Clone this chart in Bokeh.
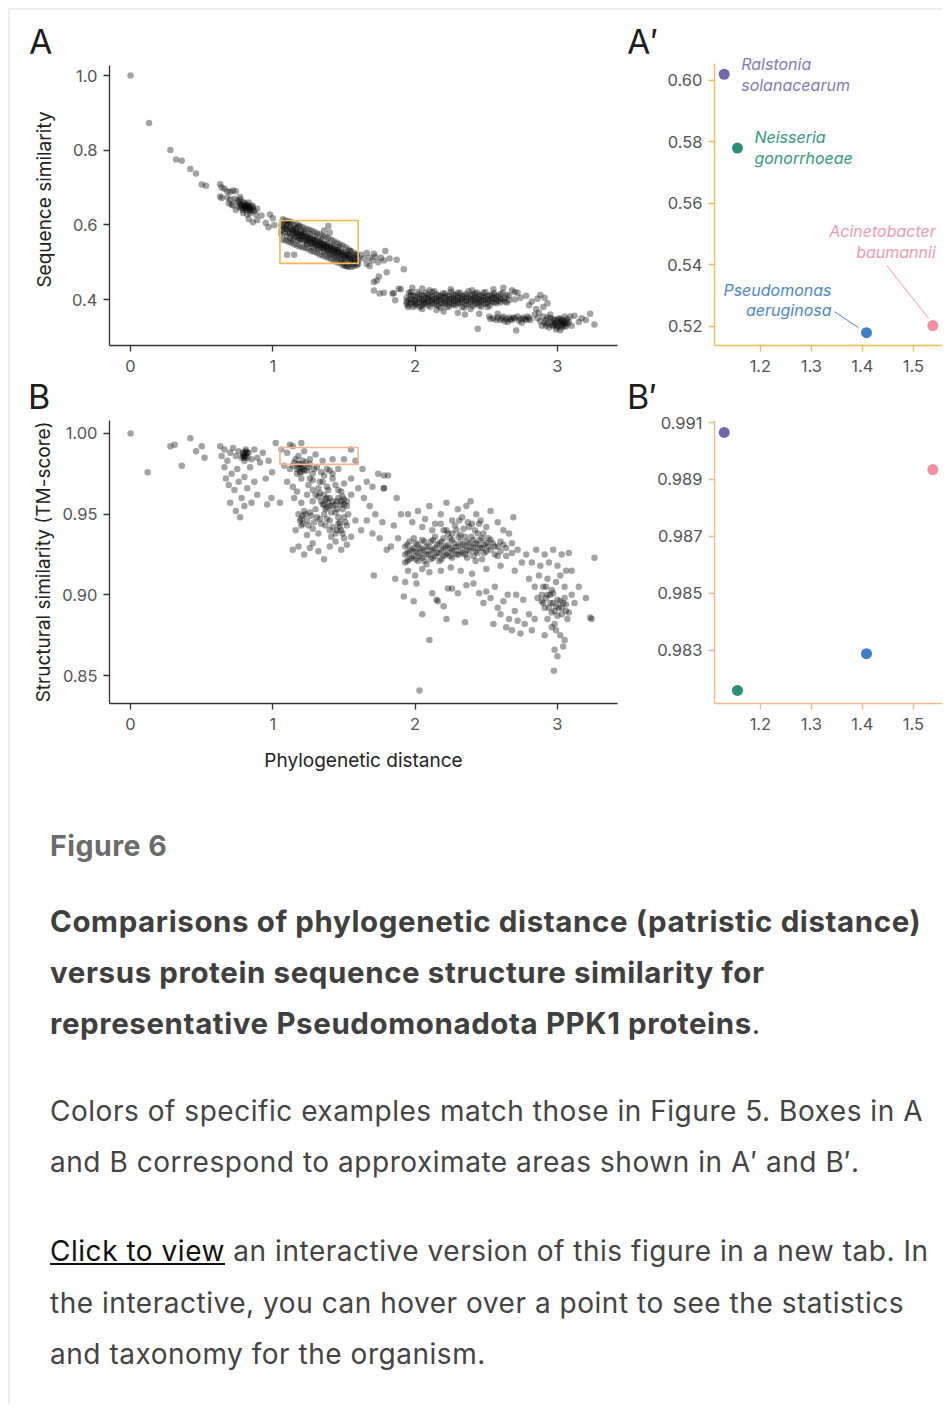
from bokeh.plotting import figure
from bokeh.layouts import column, row
from bokeh.models import Div, PrintfTickFormatter, FixedTicker, BoxAnnotation, Range1d, ColumnDataSource, Label
from bokeh.embed import file_html
from bokeh.resources import INLINE

FONT = "Inter"

# ---------------- data ----------------
panel_letters_top = ["A", "A\u2032"]
panel_letters_bottom = ["B", "B\u2032"]

main_x_ticks = [0, 1, 2, 3]
seq_ticks = [0.4, 0.6, 0.8, 1.0]
tm_ticks = [0.85, 0.90, 0.95, 1.00]
zoom_x_ticks = [1.2, 1.3, 1.4, 1.5]
zoom_seq_ticks = [0.52, 0.54, 0.56, 0.58, 0.60]
zoom_tm_ticks = [0.983, 0.985, 0.987, 0.989, 0.991]

box_dist = [1.05, 1.60]
box_seq = [0.497, 0.612]
box_tm = [0.9808, 0.9913]

species_line1 = ["Ralstonia", "Neisseria", "Pseudomonas", "Acinetobacter"]
species_line2 = ["solanacearum", "gonorrhoeae", "aeruginosa", "baumannii"]
species_dist = [1.129, 1.155, 1.408, 1.538]
species_seq = [0.602, 0.578, 0.518, 0.5203]
species_tm = [0.99065, 0.98160, 0.98289, 0.98935]
species_color = ["#7167ac", "#2b8f77", "#3f7dc6", "#f38ea2"]
species_label_color = ["#8279bd", "#33987f", "#4b87d0", "#f39aac"]

# Panel A: (phylogenetic distance, sequence similarity)
a_sparse = [(0.00, 1.000), (0.13, 0.873), (0.28, 0.801), (0.32, 0.775), (0.36, 0.772), (0.42, 0.750),
            (0.46, 0.738), (0.50, 0.708), (0.53, 0.705)]
a_cluster1 = [(0.63, 0.709), (0.64, 0.700), (0.66, 0.697), (0.63, 0.676), (0.64, 0.672), (0.68, 0.690),
              (0.70, 0.688), (0.72, 0.692), (0.74, 0.690), (0.68, 0.674), (0.70, 0.668), (0.73, 0.670),
              (0.75, 0.665), (0.76, 0.660), (0.77, 0.668), (0.78, 0.655), (0.79, 0.662), (0.80, 0.650),
              (0.80, 0.658), (0.81, 0.645), (0.82, 0.655), (0.83, 0.648), (0.84, 0.640), (0.85, 0.652),
              (0.86, 0.644), (0.87, 0.637), (0.78, 0.645), (0.76, 0.648), (0.74, 0.640), (0.71, 0.655),
              (0.79, 0.632), (0.82, 0.628), (0.84, 0.632), (0.88, 0.628), (0.89, 0.643), (0.92, 0.625),
              (0.86, 0.607), (0.89, 0.613), (0.83, 0.616), (0.81, 0.640), (0.83, 0.660), (0.77, 0.675),
              (0.72, 0.652), (0.69, 0.658), (0.98, 0.628), (1.00, 0.618), (0.97, 0.594), (1.01, 0.600),
              (0.95, 0.605), (0.78, 0.650), (0.80, 0.645), (0.82, 0.650), (0.84, 0.646), (0.81, 0.652),
              (0.83, 0.642), (0.79, 0.640), (0.85, 0.638), (0.77, 0.655), (0.86, 0.650)]
a_box_rows = {
    1.06: [0.600, 0.585, 0.575], 1.08: [0.607, 0.592, 0.580], 1.10: [0.598, 0.588, 0.570, 0.603],
    1.12: [0.593, 0.578, 0.565, 0.605], 1.14: [0.590, 0.575, 0.583, 0.560], 1.16: [0.585, 0.570, 0.592, 0.578],
    1.18: [0.580, 0.565, 0.573, 0.558, 0.595], 1.20: [0.577, 0.562, 0.570, 0.585],
    1.22: [0.575, 0.556, 0.566, 0.580], 1.24: [0.570, 0.553, 0.563, 0.548], 1.26: [0.567, 0.552, 0.560, 0.575],
    1.28: [0.562, 0.548, 0.556, 0.540], 1.30: [0.560, 0.545, 0.553, 0.568], 1.32: [0.556, 0.540, 0.549, 0.535],
    1.34: [0.552, 0.538, 0.546, 0.560], 1.36: [0.548, 0.535, 0.543, 0.528], 1.38: [0.545, 0.530, 0.539, 0.552],
    1.40: [0.542, 0.525, 0.536, 0.520], 1.42: [0.538, 0.522, 0.532, 0.545], 1.44: [0.535, 0.518, 0.529, 0.512],
    1.46: [0.532, 0.515, 0.526, 0.540], 1.48: [0.528, 0.510, 0.522, 0.505], 1.50: [0.525, 0.508, 0.519, 0.495],
    1.52: [0.522, 0.505, 0.516, 0.490], 1.54: [0.518, 0.500, 0.512, 0.530], 1.56: [0.515, 0.495, 0.509],
    1.58: [0.510, 0.498, 0.520], 1.60: [0.505, 0.495, 0.512],
    1.07: [0.615, 0.560, 0.596], 1.09: [0.612, 0.558, 0.590], 1.11: [0.610, 0.555, 0.580],
    1.13: [0.608, 0.552, 0.588], 1.15: [0.600, 0.548, 0.566], 1.17: [0.602, 0.545, 0.580],
    1.19: [0.598, 0.542, 0.560], 1.21: [0.594, 0.540, 0.572], 1.23: [0.590, 0.538, 0.558],
    1.25: [0.588, 0.535, 0.566], 1.27: [0.585, 0.530, 0.550], 1.29: [0.582, 0.528, 0.560],
    1.31: [0.578, 0.525, 0.545], 1.33: [0.575, 0.520, 0.555], 1.35: [0.570, 0.518, 0.540],
    1.37: [0.568, 0.515, 0.548], 1.39: [0.565, 0.512, 0.532], 1.41: [0.560, 0.508, 0.540],
    1.43: [0.556, 0.505, 0.525], 1.45: [0.552, 0.500, 0.533], 1.47: [0.548, 0.498, 0.518],
    1.49: [0.545, 0.492, 0.527], 1.51: [0.540, 0.490, 0.512], 1.53: [0.535, 0.488, 0.520],
    1.55: [0.530, 0.487, 0.505], 1.57: [0.525, 0.490, 0.502], 1.59: [0.520, 0.492],
}
a_box_extra = [(1.10, 0.520), (1.15, 0.520), (1.39, 0.597), (1.40, 0.580), (1.36, 0.585)]
a_tail = [(1.62, 0.520), (1.64, 0.510), (1.66, 0.496), (1.66, 0.525), (1.68, 0.512), (1.70, 0.505), (1.71, 0.523),
          (1.72, 0.515), (1.74, 0.500), (1.76, 0.512), (1.79, 0.530), (1.78, 0.505), (1.80, 0.473), (1.82, 0.510),
          (1.87, 0.507), (1.92, 0.481), (1.745, 0.462), (1.73, 0.451), (1.71, 0.424), (1.75, 0.416), (1.71, 0.447),
          (1.78, 0.418), (1.84, 0.416), (1.85, 0.417), (1.885, 0.429), (1.86, 0.398), (1.90, 0.428), (1.68, 0.490)]
a_band_rows = {
    1.94: [0.405, 0.395, 0.388], 1.97: [0.412, 0.400, 0.392, 0.420], 2.00: [0.408, 0.398, 0.390, 0.385],
    2.03: [0.415, 0.402, 0.394, 0.380], 2.06: [0.410, 0.400, 0.392, 0.388], 2.09: [0.412, 0.403, 0.395, 0.385],
    2.12: [0.408, 0.398, 0.390, 0.420], 2.15: [0.414, 0.404, 0.396, 0.386], 2.18: [0.410, 0.400, 0.392, 0.378],
    2.21: [0.416, 0.405, 0.395, 0.388], 2.24: [0.410, 0.401, 0.393, 0.382], 2.27: [0.413, 0.404, 0.396, 0.387],
    2.30: [0.418, 0.406, 0.398, 0.390], 2.33: [0.411, 0.402, 0.394, 0.380], 2.36: [0.415, 0.405, 0.397, 0.386],
    2.39: [0.410, 0.401, 0.393, 0.375], 2.42: [0.416, 0.406, 0.398, 0.388], 2.45: [0.412, 0.402, 0.394, 0.384],
    2.48: [0.418, 0.407, 0.399, 0.390], 2.51: [0.410, 0.400, 0.392, 0.380], 2.54: [0.413, 0.403, 0.395],
    2.57: [0.410, 0.400, 0.390], 2.60: [0.415, 0.402, 0.392], 2.63: [0.405, 0.395], 2.66: [0.410, 0.398],
    2.70: [0.420, 0.400],
    1.955: [0.418, 0.400, 0.385], 1.985: [0.410, 0.395, 0.380], 2.015: [0.420, 0.405, 0.388],
    2.045: [0.412, 0.398, 0.383], 2.075: [0.418, 0.404, 0.390], 2.105: [0.409, 0.396, 0.381],
    2.135: [0.422, 0.402, 0.389], 2.165: [0.411, 0.399, 0.383], 2.195: [0.417, 0.406, 0.390],
    2.225: [0.410, 0.397, 0.380], 2.255: [0.421, 0.403, 0.388], 2.285: [0.412, 0.398, 0.384],
    2.315: [0.418, 0.404, 0.391], 2.345: [0.410, 0.396, 0.379], 2.375: [0.422, 0.405, 0.388],
    2.405: [0.413, 0.399, 0.383], 2.435: [0.419, 0.403, 0.390], 2.465: [0.410, 0.396, 0.381],
    2.495: [0.420, 0.404, 0.389], 2.525: [0.411, 0.398, 0.384], 2.555: [0.417, 0.405, 0.392],
    2.585: [0.409, 0.396], 2.615: [0.418, 0.400], 2.645: [0.412, 0.392],
}
a_band_extra = [(1.98, 0.432), (2.05, 0.430), (2.10, 0.425), (2.25, 0.428), (2.40, 0.425), (2.55, 0.428),
                (2.62, 0.432), (2.68, 0.425), (2.72, 0.418), (2.20, 0.368), (2.30, 0.365), (2.35, 0.360),
                (2.45, 0.362), (2.44, 0.322), (2.15, 0.372), (2.05, 0.375), (1.95, 0.380)]
a_low = [(2.52, 0.355), (2.55, 0.350), (2.58, 0.352), (2.60, 0.345), (2.62, 0.355), (2.64, 0.348), (2.66, 0.352),
         (2.68, 0.345), (2.70, 0.350), (2.72, 0.355), (2.74, 0.348), (2.76, 0.352), (2.78, 0.345), (2.80, 0.350),
         (2.65, 0.340), (2.71, 0.317), (2.58, 0.362), (2.75, 0.338), (2.53, 0.348), (2.57, 0.345), (2.61, 0.350),
         (2.63, 0.342), (2.67, 0.347), (2.69, 0.352), (2.73, 0.343), (2.77, 0.348), (2.79, 0.355), (2.81, 0.345)]
a_upper_right = [(2.74, 0.405), (2.78, 0.410), (2.82, 0.395), (2.86, 0.402), (2.88, 0.412), (2.91, 0.405),
                 (2.93, 0.390), (2.80, 0.385), (2.85, 0.375), (2.90, 0.380)]
a_right = [(2.84, 0.360), (2.86, 0.350), (2.88, 0.342), (2.90, 0.355), (2.92, 0.345), (2.93, 0.335), (2.95, 0.350),
           (2.96, 0.340), (2.97, 0.330), (2.98, 0.345), (3.00, 0.338), (3.00, 0.325), (3.01, 0.350), (3.02, 0.340),
           (3.03, 0.332), (3.04, 0.345), (3.05, 0.338), (3.06, 0.328), (3.07, 0.348), (3.08, 0.340), (2.94, 0.325),
           (2.99, 0.320), (3.02, 0.318), (2.89, 0.330), (2.87, 0.365), (3.09, 0.355), (3.10, 0.330), (2.95, 0.360),
           (3.05, 0.355), (3.03, 0.325), (3.12, 0.357), (3.17, 0.350), (3.23, 0.362), (3.26, 0.333), (3.15, 0.340),
           (3.20, 0.345), (2.91, 0.338), (2.93, 0.352), (2.96, 0.332), (2.98, 0.336), (3.00, 0.345), (3.01, 0.330),
           (3.02, 0.348), (3.04, 0.336), (3.06, 0.342), (2.97, 0.348), (3.03, 0.342), (2.99, 0.332), (2.92, 0.330),
           (3.05, 0.330), (3.07, 0.335)]

# Panel B: (phylogenetic distance, TM-score)
b_sparse = [(0.00, 1.000), (0.12, 0.976), (0.28, 0.992), (0.31, 0.993), (0.36, 0.980), (0.42, 0.997),
            (0.46, 0.989), (0.50, 0.992), (0.52, 0.985)]
b_cluster0 = [(0.63, 0.992), (0.64, 0.986), (0.66, 0.990), (0.68, 0.983), (0.70, 0.988), (0.72, 0.991),
              (0.74, 0.986), (0.76, 0.989), (0.78, 0.985), (0.79, 0.988), (0.80, 0.986), (0.81, 0.989),
              (0.82, 0.985), (0.80, 0.983), (0.83, 0.988), (0.85, 0.984), (0.87, 0.990), (0.89, 0.985),
              (0.91, 0.982), (0.93, 0.988), (0.66, 0.979), (0.67, 0.972), (0.69, 0.968), (0.71, 0.975),
              (0.73, 0.965), (0.75, 0.978), (0.76, 0.970), (0.78, 0.960), (0.80, 0.973), (0.82, 0.966),
              (0.84, 0.979), (0.85, 0.957), (0.87, 0.970), (0.89, 0.962), (0.70, 0.957), (0.74, 0.952),
              (0.77, 0.948), (0.80, 0.955), (0.96, 0.956), (0.99, 0.960), (1.05, 0.957), (0.995, 0.976),
              (1.02, 0.994), (0.97, 0.983), (0.95, 0.972), (0.80, 0.988), (0.81, 0.986), (0.82, 0.988),
              (0.80, 0.985), (0.81, 0.990), (0.79, 0.986)]
b_cluster1 = [(1.06, 0.990), (1.10, 0.988), (1.14, 0.992), (1.18, 0.986), (1.22, 0.989), (1.26, 0.984),
              (1.30, 0.987), (1.35, 0.983), (1.42, 0.984), (1.50, 0.984), (1.55, 0.990), (1.58, 0.983),
              (1.12, 0.993), (1.20, 0.994),
              (1.08, 0.980), (1.12, 0.978), (1.15, 0.982), (1.18, 0.979), (1.20, 0.976), (1.22, 0.980),
              (1.24, 0.977), (1.26, 0.981), (1.28, 0.975), (1.31, 0.979), (1.34, 0.976), (1.38, 0.978),
              (1.42, 0.975), (1.46, 0.978), (1.19, 0.981), (1.21, 0.978), (1.17, 0.975),
              (1.10, 0.970), (1.14, 0.967), (1.20, 0.972), (1.25, 0.968), (1.28, 0.971), (1.32, 0.966),
              (1.35, 0.970), (1.38, 0.967), (1.42, 0.972), (1.46, 0.965), (1.50, 0.969), (1.55, 0.972),
              (1.60, 0.966), (1.17, 0.964),
              (1.15, 0.960), (1.20, 0.957), (1.24, 0.962), (1.28, 0.958), (1.32, 0.961), (1.35, 0.956),
              (1.37, 0.959), (1.39, 0.957), (1.40, 0.960), (1.42, 0.955), (1.45, 0.958), (1.48, 0.956),
              (1.50, 0.959), (1.52, 0.955), (1.55, 0.962), (1.36, 0.962), (1.38, 0.954), (1.49, 0.953),
              (1.18, 0.950), (1.20, 0.947), (1.22, 0.952), (1.24, 0.946), (1.27, 0.949), (1.30, 0.953),
              (1.33, 0.947), (1.36, 0.950), (1.40, 0.946), (1.44, 0.951), (1.47, 0.945), (1.50, 0.948),
              (1.53, 0.950), (1.58, 0.946), (1.21, 0.949),
              (1.16, 0.940), (1.20, 0.943), (1.24, 0.937), (1.28, 0.941), (1.32, 0.938), (1.37, 0.943),
              (1.41, 0.936), (1.45, 0.940), (1.47, 0.942), (1.49, 0.938), (1.52, 0.943), (1.55, 0.936),
              (1.46, 0.944), (1.50, 0.935),
              (1.14, 0.928), (1.18, 0.930), (1.22, 0.925), (1.28, 0.932), (1.32, 0.927), (1.36, 0.922),
              (1.40, 0.930), (1.44, 0.933), (1.48, 0.928), (1.52, 0.931), (1.26, 0.929),
              (1.18, 0.981), (1.20, 0.979), (1.22, 0.977), (1.19, 0.976), (1.23, 0.982), (1.17, 0.978),
              (1.25, 0.979), (1.21, 0.983), (1.16, 0.984), (1.14, 0.980),
              (1.34, 0.958), (1.36, 0.956), (1.38, 0.960), (1.40, 0.955), (1.42, 0.958), (1.44, 0.956),
              (1.46, 0.960), (1.48, 0.958), (1.50, 0.956), (1.52, 0.958), (1.37, 0.953), (1.41, 0.951),
              (1.45, 0.953), (1.49, 0.961), (1.33, 0.963),
              (1.19, 0.946), (1.21, 0.944), (1.23, 0.950), (1.25, 0.943), (1.26, 0.951), (1.29, 0.945),
              (1.31, 0.948), (1.34, 0.944), (1.38, 0.947), (1.42, 0.942), (1.46, 0.948), (1.48, 0.940),
              (1.51, 0.945), (1.44, 0.938), (1.40, 0.940),
              (1.28, 0.965), (1.30, 0.962), (1.26, 0.972), (1.33, 0.970), (1.39, 0.965), (1.44, 0.968),
              (1.48, 0.964), (1.29, 0.978), (1.36, 0.974), (1.40, 0.977)]
b_right1 = [(1.63, 0.978), (1.66, 0.970), (1.70, 0.967), (1.74, 0.975), (1.78, 0.974), (1.81, 0.974),
            (1.64, 0.960), (1.68, 0.955), (1.72, 0.950), (1.77, 0.945), (1.66, 0.946), (1.70, 0.938),
            (1.75, 0.935), (1.62, 0.940), (1.83, 0.930), (1.87, 0.960), (1.90, 0.950), (1.71, 0.912),
            (1.78, 0.966), (1.80, 0.928), (1.88, 0.935), (1.85, 0.943)]
b_band_rows = {
    1.93: [0.930, 0.925, 0.920], 1.96: [0.933, 0.927, 0.922], 1.99: [0.929, 0.924, 0.935],
    2.02: [0.931, 0.926, 0.921], 2.05: [0.934, 0.928, 0.923], 2.08: [0.930, 0.925, 0.919],
    2.11: [0.933, 0.927, 0.922], 2.14: [0.929, 0.924, 0.936], 2.17: [0.932, 0.926, 0.921],
    2.20: [0.935, 0.929, 0.924], 2.23: [0.931, 0.926, 0.938], 2.26: [0.934, 0.928, 0.923],
    2.29: [0.930, 0.925, 0.940], 2.32: [0.933, 0.927, 0.937], 2.35: [0.936, 0.930, 0.925],
    2.38: [0.932, 0.927, 0.942], 2.41: [0.934, 0.929, 0.924], 2.44: [0.931, 0.926, 0.938],
    2.47: [0.935, 0.929, 0.922], 2.50: [0.932, 0.927], 2.53: [0.934, 0.928], 2.56: [0.930, 0.925],
    2.60: [0.933, 0.927], 2.64: [0.929, 0.924], 2.68: [0.932, 0.926], 2.72: [0.928],
    1.945: [0.931, 0.926, 0.921], 1.975: [0.928, 0.923], 2.005: [0.932, 0.927, 0.922], 2.035: [0.929, 0.924],
    2.065: [0.933, 0.927, 0.921], 2.095: [0.930, 0.925], 2.125: [0.934, 0.928, 0.923], 2.155: [0.931, 0.926],
    2.185: [0.933, 0.928, 0.922], 2.215: [0.930, 0.925], 2.245: [0.935, 0.929, 0.924], 2.275: [0.932, 0.927],
    2.305: [0.936, 0.930, 0.925], 2.335: [0.931, 0.926], 2.365: [0.933, 0.928, 0.923], 2.395: [0.936, 0.930],
    2.425: [0.932, 0.927, 0.921], 2.455: [0.934, 0.929], 2.485: [0.931, 0.926], 2.515: [0.935, 0.930],
    2.545: [0.932], 2.58: [0.930, 0.924], 2.62: [0.931],
}
b_band_extra = [(1.95, 0.950), (1.98, 0.945), (2.02, 0.952), (2.07, 0.947), (2.10, 0.955), (2.14, 0.944),
                (2.18, 0.950), (2.22, 0.957), (2.26, 0.946), (2.30, 0.953), (2.33, 0.948), (2.36, 0.955),
                (2.40, 0.944), (2.43, 0.950), (2.46, 0.946), (2.50, 0.942), (2.53, 0.952), (2.58, 0.945),
                (2.62, 0.940), (2.66, 0.938), (2.69, 0.948), (2.39, 0.958), (2.20, 0.940), (2.12, 0.940),
                (2.05, 0.942), (1.95, 0.915), (2.00, 0.912), (2.05, 0.916), (2.10, 0.914), (2.18, 0.915),
                (2.25, 0.917), (2.32, 0.915), (2.40, 0.913), (2.50, 0.916), (2.60, 0.918), (2.70, 0.915),
                (2.75, 0.920), (1.78, 0.966), (2.22, 0.940), (2.28, 0.943), (2.34, 0.941), (2.37, 0.945),
                (2.42, 0.940), (2.45, 0.944), (2.48, 0.938), (2.31, 0.946), (2.26, 0.938), (2.18, 0.944)]
b_lower_left = [(1.86, 0.910), (1.93, 0.908), (2.01, 0.907), (1.92, 0.899), (2.05, 0.888), (2.10, 0.872),
                (2.12, 0.901), (2.15, 0.897), (2.16, 0.896), (2.23, 0.904), (2.26, 0.904), (2.22, 0.885),
                (2.30, 0.901), (2.36, 0.906), (2.41, 0.907), (2.45, 0.901), (2.20, 0.893), (1.99, 0.896),
                (2.35, 0.883), (2.03, 0.8408)]
b_lower_mid = [(2.50, 0.902), (2.53, 0.898), (2.56, 0.905), (2.58, 0.892), (2.60, 0.888), (2.62, 0.896),
               (2.64, 0.880), (2.66, 0.885), (2.68, 0.878), (2.70, 0.890), (2.72, 0.884), (2.74, 0.876),
               (2.77, 0.882), (2.80, 0.888), (2.55, 0.882), (2.48, 0.895), (2.65, 0.900), (2.71, 0.900),
               (2.76, 0.897)]
b_right = [(2.78, 0.925), (2.82, 0.920), (2.85, 0.928), (2.88, 0.918), (2.91, 0.925), (2.94, 0.920), (2.97, 0.928),
           (3.00, 0.918), (3.03, 0.925), (3.06, 0.915), (3.08, 0.926), (2.80, 0.910), (2.84, 0.905), (2.87, 0.912),
           (2.90, 0.905), (2.93, 0.910), (2.96, 0.903), (2.99, 0.908), (3.02, 0.912), (3.05, 0.905), (3.10, 0.915),
           (2.86, 0.898), (2.89, 0.900), (2.90, 0.895), (2.92, 0.898), (2.94, 0.892), (2.95, 0.900), (2.97, 0.895),
           (2.98, 0.890), (3.00, 0.897), (3.01, 0.892), (3.03, 0.888), (3.04, 0.895), (3.06, 0.890), (3.07, 0.885),
           (2.93, 0.885), (2.96, 0.880), (2.99, 0.878), (3.02, 0.875), (3.05, 0.872), (2.91, 0.875), (2.98, 0.866),
           (3.00, 0.862), (3.04, 0.868), (2.84, 0.885), (2.82, 0.878), (3.10, 0.900), (3.12, 0.895), (3.15, 0.905),
           (2.975, 0.853), (3.23, 0.886), (3.26, 0.923), (3.20, 0.898), (3.24, 0.885),
           (2.89, 0.896), (2.91, 0.892), (2.93, 0.900), (2.95, 0.895), (2.96, 0.889), (2.97, 0.901), (2.99, 0.893),
           (3.00, 0.887), (3.02, 0.896), (3.03, 0.892), (3.05, 0.898), (3.06, 0.894), (3.08, 0.889), (2.92, 0.905),
           (2.98, 0.882)]


def rows_to_pairs(rows):
    return [(x, y) for x, ys in rows.items() for y in ys]


a_points = (a_sparse + a_cluster1 + rows_to_pairs(a_box_rows) + a_box_extra + a_tail +
            rows_to_pairs(a_band_rows) + a_band_extra + a_low + a_upper_right + a_right)
b_points = (b_sparse + b_cluster0 + b_cluster1 + b_right1 + rows_to_pairs(b_band_rows) + b_band_extra +
            b_lower_left + b_lower_mid + b_right)

# ---------------- styling helpers ----------------
AXIS_DARK = "#333333"
ORANGE_A = "#f6b94f"
ORANGE_B = "#f7b48c"
DOT_SIZE = 6.5
DOT_ALPHA = 0.36
TOTAL_W = 932
LEFT_W = 610


def make_fig(xr, yr, fw, fh, left, right, top, bottom):
    p = figure(x_range=Range1d(*xr), y_range=Range1d(*yr), frame_width=fw, frame_height=fh,
               min_border_left=left, min_border_right=right, min_border_top=top, min_border_bottom=bottom,
               toolbar_location=None, output_backend="svg", tools="", title=None)
    p.outline_line_color = None
    p.grid.visible = False
    p.background_fill_color = "white"
    p.border_fill_color = "white"
    return p


def letter_strip(h, letters, tops, lefts):
    spans = "".join(
        f'<span style="position:absolute;left:{lx}px;top:{ty}px;">{t}</span>'
        for t, ty, lx in zip(letters, tops, lefts))
    html = (f'<div style="position:relative;width:{TOTAL_W}px;height:{h}px;font-family:Inter,sans-serif;'
            f'font-size:34px;line-height:34px;color:#1e1e1e;white-space:nowrap;">{spans}</div>')
    return Div(text=html, width=TOTAL_W, height=h, margin=0)


def style_axes(p, color):
    for ax in (p.xaxis[0], p.yaxis[0]):
        ax.axis_line_color = color
        ax.axis_line_width = 1.3
        ax.major_tick_line_color = color
        ax.major_tick_line_width = 1.3
        ax.major_tick_out = 6
        ax.major_tick_in = 0
        ax.minor_tick_line_color = None
        ax.major_label_text_font = FONT
        ax.major_label_text_font_size = "16.5px"
        ax.major_label_text_color = "#555555"
        ax.major_label_standoff = 6
        ax.axis_label_text_font = FONT
        ax.axis_label_text_font_size = "19px"
        ax.axis_label_text_font_style = "normal"
        ax.axis_label_text_color = "#222222"


MAIN_X = (-0.148, 3.422)
SEQ_AXIS = (0.277, 1.027)
SEQ_FRAME = (0.277, 1.05915)     # frame reaches a little above the axis line (shared top with A')
TM_RANGE = (0.8327, 1.008)
ROW_A_FRAME_H = 292

# ---- Panel A ----
pA = make_fig(MAIN_X, SEQ_FRAME, 508, ROW_A_FRAME_H, 99, 3, 0, 35)
style_axes(pA, AXIS_DARK)
pA.yaxis.bounds = SEQ_AXIS
pA.xaxis.ticker = FixedTicker(ticks=main_x_ticks)
pA.yaxis.ticker = FixedTicker(ticks=seq_ticks)
pA.xaxis.formatter = PrintfTickFormatter(format="%d")
pA.yaxis.formatter = PrintfTickFormatter(format="%.1f")
pA.yaxis.axis_label = "Sequence similarity"
pA.yaxis.axis_label_standoff = 13
pA.xaxis.major_label_standoff = 8
srcA = ColumnDataSource(dict(x=[q[0] for q in a_points], y=[q[1] for q in a_points]))
pA.scatter("x", "y", source=srcA, size=DOT_SIZE, fill_color="black", fill_alpha=DOT_ALPHA, line_color=None)
pA.add_layout(BoxAnnotation(left=box_dist[0], right=box_dist[1], bottom=box_seq[0], top=box_seq[1],
                            fill_color=None, fill_alpha=0, line_color=ORANGE_A, line_alpha=1.0, line_width=1.6))

# ---- Panel B ----
pB = make_fig(MAIN_X, TM_RANGE, 508, 283, 99, 3, 8, 87)
style_axes(pB, AXIS_DARK)
pB.xaxis.ticker = FixedTicker(ticks=main_x_ticks)
pB.yaxis.ticker = FixedTicker(ticks=tm_ticks)
pB.xaxis.formatter = PrintfTickFormatter(format="%d")
pB.yaxis.formatter = PrintfTickFormatter(format="%.2f")
pB.yaxis.axis_label = "Structural similarity (TM-score)"
pB.yaxis.axis_label_standoff = 4
pB.xaxis.axis_label = "Phylogenetic distance"
pB.xaxis.axis_label_standoff = 16
pB.xaxis.major_label_standoff = 8
srcB = ColumnDataSource(dict(x=[q[0] for q in b_points], y=[q[1] for q in b_points]))
pB.scatter("x", "y", source=srcB, size=DOT_SIZE, fill_color="black", fill_alpha=DOT_ALPHA, line_color=None)
pB.add_layout(BoxAnnotation(left=box_dist[0], right=box_dist[1], bottom=box_tm[0], top=box_tm[1],
                            fill_color=None, fill_alpha=0, line_color=ORANGE_B, line_alpha=1.0, line_width=1.6))

ZOOM_X = (1.11, 1.557)
ZOOM_SEQ_AXIS = (0.51382, 0.6055)
ZOOM_SEQ = (0.51382, 0.60875)   # frame extends a little above the axis line so the labels fit
ZOOM_TM = (0.98114, 0.99107)

# ---- Panel A' ----
pA2 = make_fig(ZOOM_X, ZOOM_SEQ, 228, ROW_A_FRAME_H, 94, 0, 0, 35)
style_axes(pA2, ORANGE_A)
pA2.yaxis.bounds = ZOOM_SEQ_AXIS
pA2.xaxis.ticker = FixedTicker(ticks=zoom_x_ticks)
pA2.yaxis.ticker = FixedTicker(ticks=zoom_seq_ticks)
pA2.xaxis.formatter = PrintfTickFormatter(format="%.1f")
pA2.yaxis.formatter = PrintfTickFormatter(format="%.2f")
pA2.xaxis.major_label_standoff = 8
srcS = ColumnDataSource(dict(x=species_dist, yseq=species_seq, ytm=species_tm, color=species_color))
pA2.scatter("x", "yseq", source=srcS, size=11, fill_color="color", line_color=None)

# label placement (pixels relative to each point; positive y = up)
lab_dx = [17, 17, -35, 3]
lab_dy1 = [10, 11, 43, 95]
lab_dy2 = [-11, -10, 23, 74]
lab_align = ["left", "left", "right", "right"]
for i in range(4):
    for txt, dy in ((species_line1[i], lab_dy1[i]), (species_line2[i], lab_dy2[i])):
        pA2.add_layout(Label(x=species_dist[i], y=species_seq[i], text=txt, x_offset=lab_dx[i], y_offset=dy,
                             text_font=FONT, text_font_size="16px", text_font_style="italic",
                             text_color=species_label_color[i], text_align=lab_align[i],
                             text_baseline="middle"))

# leader lines (pixel offsets converted through the panel scale; y offsets positive = down)
sx = (ZOOM_X[1] - ZOOM_X[0]) / 228.0
sy = (ZOOM_SEQ[1] - ZOOM_SEQ[0]) / ROW_A_FRAME_H
leaders = {2: ((-32, -21), (-8, -5)), 3: ((-46, -60), (-4, -7))}
for i, ((ax0, ay0), (ax1, ay1)) in leaders.items():
    pA2.segment(x0=[species_dist[i] + ax0 * sx], y0=[species_seq[i] - ay0 * sy],
                x1=[species_dist[i] + ax1 * sx], y1=[species_seq[i] - ay1 * sy],
                line_color=species_label_color[i], line_width=1)

# ---- Panel B' ----
pB2 = make_fig(ZOOM_X, ZOOM_TM, 228, 283, 94, 0, 8, 87)
style_axes(pB2, ORANGE_B)
pB2.xaxis.ticker = FixedTicker(ticks=zoom_x_ticks)
pB2.yaxis.ticker = FixedTicker(ticks=zoom_tm_ticks)
pB2.xaxis.formatter = PrintfTickFormatter(format="%.1f")
pB2.yaxis.formatter = PrintfTickFormatter(format="%.3f")
pB2.xaxis.major_label_standoff = 8
pB2.scatter("x", "ytm", source=srcS, size=11, fill_color="color", line_color=None)

strip_top = letter_strip(43, panel_letters_top, [15, 15], [19, LEFT_W + 7])
strip_mid = letter_strip(32, panel_letters_bottom, [0, 0], [18, LEFT_W + 7])

# ---- caption ----
caption_html = """
<div style="font-family:'Inter',sans-serif;color:#444444;padding-left:40px;width:880px;">
<div style="padding-top:30px;font-size:28.5px;line-height:51px;font-weight:700;color:#6b6b6b;white-space:nowrap;letter-spacing:0.5px;">Figure 6</div>
<div style="padding-top:25px;font-size:29.5px;line-height:51px;font-weight:700;color:#3f3f3f;white-space:nowrap;letter-spacing:0.6px;">Comparisons of phylogenetic distance (patristic distance)<br>versus protein sequence structure similarity for<br>representative Pseudomonadota PPK1 proteins<span style="font-weight:400">.</span></div>
<div style="padding-top:37px;font-size:28px;line-height:51px;color:#444444;white-space:nowrap;letter-spacing:0.53px;">Colors of specific examples match those in Figure 5. Boxes in A<br>and B correspond to approximate areas shown in A\u2032 and B\u2032.</div>
<div style="padding-top:38px;font-size:28px;line-height:51.5px;color:#444444;white-space:nowrap;letter-spacing:0.53px;"><span style="color:#111111;text-decoration:underline;">Click to view</span> an interactive version of this figure in a new tab. In<br>the interactive, you can hover over a point to see the statistics<br>and taxonomy for the organism.</div>
</div>
"""
cap = Div(text=caption_html, width=TOTAL_W, height=614, margin=0)

layout = column(strip_top, row(pA, pA2), strip_mid, row(pB, pB2), cap,
                styles={"margin-left": "8px", "margin-top": "8px",
                        "border-top": "2px solid #ececec", "border-left": "2px solid #ececec"})

open("out.html", "w").write(file_html(layout, INLINE))
